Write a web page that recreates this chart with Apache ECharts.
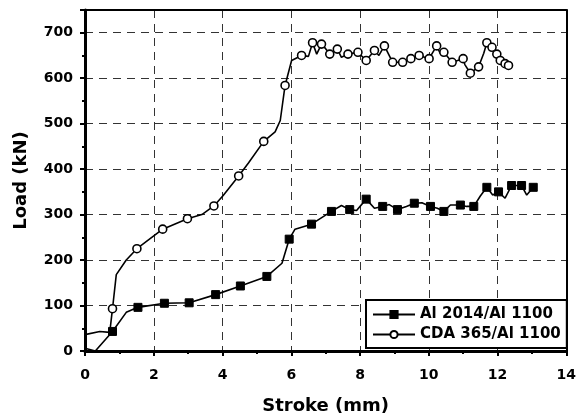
<!DOCTYPE html>
<html>
<head>
<meta charset="utf-8">
<script src="https://cdn.jsdelivr.net/npm/echarts@6/dist/echarts.min.js"></script>
<style>html,body{margin:0;padding:0;background:#fff}#c{width:579px;height:420px}</style>
</head>
<body>
<div id="c"></div>
<script>
// [stroke (mm), load (kN), marker (1 = symbol drawn)]
var seriesNames = ['Al 2014/Al 1100', 'CDA 365/Al 1100'];
var xTicks = [0, 2, 4, 6, 8, 10, 12, 14];
var yTicks = [0, 100, 200, 300, 400, 500, 600, 700];

var al2014 = [
  [0.0, 6, 0], [0.3, 0, 0], [0.8, 43, 1], [1.2, 85, 0], [1.54, 96, 1], [2.31, 105, 1],
  [3.03, 106, 1], [3.8, 124, 1], [4.52, 143, 1], [5.29, 164, 1], [5.73, 193, 0],
  [5.94, 246, 1], [6.11, 268, 0], [6.59, 279, 1], [7.17, 307, 1], [7.46, 320, 0],
  [7.7, 311, 1], [7.9, 309, 0], [8.18, 334, 1], [8.42, 314, 0], [8.66, 318, 1],
  [8.85, 322, 0], [9.09, 311, 1], [9.35, 318, 0], [9.58, 325, 1], [9.8, 326, 0],
  [10.05, 318, 1], [10.25, 314, 0], [10.44, 307, 1], [10.63, 321, 0], [10.92, 321, 1],
  [11.1, 318, 0], [11.31, 318, 1], [11.5, 341, 0], [11.69, 360, 1], [11.86, 343, 0],
  [12.03, 350, 1], [12.22, 336, 0], [12.41, 364, 1], [12.7, 364, 1], [12.85, 343, 0],
  [13.04, 360, 1]
];
var cda365 = [
  [0.0, 36, 0], [0.43, 43, 0], [0.72, 41, 0], [0.8, 93, 1], [0.91, 168, 0], [1.2, 200, 0],
  [1.51, 225, 1], [2.26, 268, 1], [2.98, 291, 1], [3.4, 300, 0], [3.75, 319, 1],
  [4.02, 342, 0], [4.47, 385, 1], [4.76, 414, 0], [5.2, 461, 1], [5.53, 482, 0],
  [5.68, 507, 0], [5.82, 584, 1], [6.01, 639, 0], [6.3, 650, 1], [6.5, 648, 0],
  [6.62, 678, 1], [6.74, 653, 0], [6.88, 675, 1], [7.0, 665, 0], [7.12, 653, 1],
  [7.34, 664, 1], [7.46, 646, 0], [7.65, 653, 1], [7.94, 657, 1], [8.18, 639, 1],
  [8.42, 661, 1], [8.55, 650, 0], [8.71, 671, 1], [8.95, 635, 1], [9.24, 635, 1],
  [9.48, 643, 1], [9.72, 650, 1], [10.01, 643, 1], [10.23, 671, 1], [10.33, 655, 0],
  [10.44, 657, 1], [10.68, 635, 1], [11.0, 643, 1], [11.05, 630, 0], [11.21, 611, 1],
  [11.45, 625, 1], [11.6, 655, 0], [11.69, 678, 1], [11.84, 668, 1], [11.98, 653, 1],
  [12.08, 639, 1], [12.22, 632, 1], [12.32, 628, 1], [12.4, 630, 0]
];

function build(arr) {
  return arr.map(function (p) {
    var item = { value: [p[0], p[1]] };
    if (!p[2]) item.symbol = 'none';
    return item;
  });
}

var font = '"DejaVu Sans", sans-serif';
var gridDash = { show: true, lineStyle: { color: '#333', width: 1, type: [8, 6] } };
var chart = echarts.init(document.getElementById('c'), null, { renderer: 'canvas' });
chart.setOption({
  animation: false,
  backgroundColor: '#fff',
  grid: { left: 85, right: 9, top: 10, bottom: 60 },
  xAxis: [{
    type: 'value', min: xTicks[0], max: xTicks[xTicks.length - 1], interval: 2,
    name: 'Stroke (mm)', nameLocation: 'middle', nameGap: 46,
    nameTextStyle: { fontFamily: font, fontWeight: 'bold', fontSize: 18, color: '#000' },
    axisLine: { onZero: false, lineStyle: { color: '#000', width: 3 } },
    axisTick: { inside: false, length: 5, lineStyle: { color: '#000', width: 2 } },
    minorTick: { show: true, splitNumber: 2, length: 3, lineStyle: { color: '#000', width: 2 } },
    axisLabel: { fontFamily: font, fontWeight: 'bold', fontSize: 14, color: '#000', margin: 17 },
    splitLine: gridDash
  }, {
    type: 'value', position: 'top', min: xTicks[0], max: xTicks[xTicks.length - 1], interval: 2,
    axisLine: { onZero: false, lineStyle: { color: '#000', width: 2 } },
    axisTick: { show: false }, axisLabel: { show: false }, splitLine: { show: false }
  }],
  yAxis: [{
    type: 'value', min: yTicks[0], max: 750, interval: 100,
    name: 'Load (kN)', nameLocation: 'middle', nameGap: 55,
    nameTextStyle: { fontFamily: font, fontWeight: 'bold', fontSize: 18, color: '#000' },
    axisLine: { show: true, onZero: false, lineStyle: { color: '#000', width: 3 } },
    axisTick: { show: true, inside: false, length: 5, lineStyle: { color: '#000', width: 2 } },
    minorTick: { show: true, splitNumber: 2, length: 3, lineStyle: { color: '#000', width: 2 } },
    axisLabel: { fontFamily: font, fontWeight: 'bold', fontSize: 14, color: '#000', margin: 12, showMaxLabel: false },
    splitLine: gridDash
  }, {
    type: 'value', position: 'right', min: yTicks[0], max: 750, interval: 100,
    axisLine: { show: true, onZero: false, lineStyle: { color: '#000', width: 2 } },
    axisTick: { show: false }, axisLabel: { show: false }, splitLine: { show: false }
  }],
  legend: {
    orient: 'vertical', left: 366, top: 300,
    padding: [7, 6, 6, 6], itemGap: 5, itemWidth: 42, itemHeight: 9,
    backgroundColor: '#fff', borderColor: '#000', borderWidth: 2, borderRadius: 0,
    textStyle: { fontFamily: font, fontWeight: 'bold', fontSize: 15, color: '#000' },
    data: seriesNames
  },
  series: [
    {
      name: seriesNames[0], type: 'line', data: build(al2014),
      symbol: 'rect', symbolSize: 8,
      lineStyle: { color: '#000', width: 1.6 },
      itemStyle: { color: '#000', borderColor: '#000', borderWidth: 1 },
      z: 3
    },
    {
      name: seriesNames[1], type: 'line', data: build(cda365),
      symbol: 'circle', symbolSize: 8,
      lineStyle: { color: '#000', width: 1.6 },
      itemStyle: { color: '#fff', borderColor: '#000', borderWidth: 1.6 },
      z: 3
    }
  ]
});
</script>
</body>
</html>
